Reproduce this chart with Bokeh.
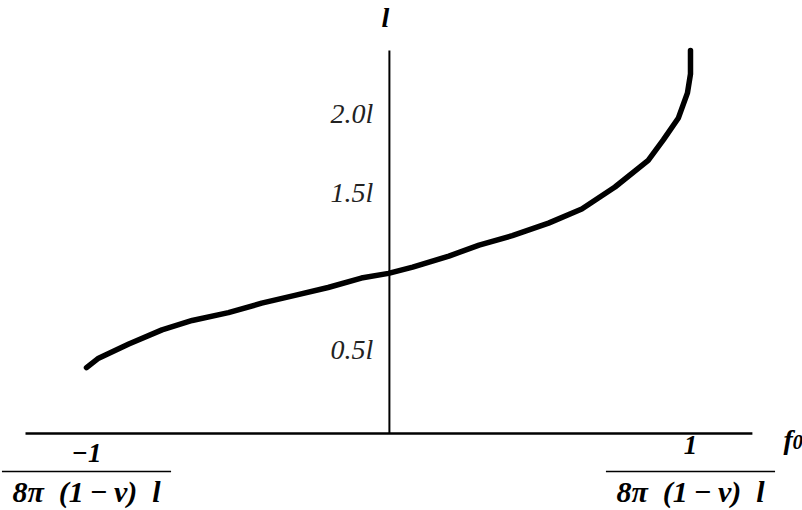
from bokeh.plotting import figure
from bokeh.models import Range1d, ColumnDataSource
from bokeh.core.properties import value
from bokeh.embed import file_html
from bokeh.resources import INLINE

# Curve data: x in units of 1/(8*pi*(1-nu)*l), y in units of l
f0_vals = [-1.0, -0.96, -0.86, -0.75, -0.65, -0.53, -0.42, -0.31, -0.2, -0.09,
           0.0, 0.08, 0.2, 0.3, 0.41, 0.53, 0.64, 0.75, 0.86, 0.91, 0.96, 0.99, 1.0, 1.0]
len_vals = [0.42, 0.48, 0.57, 0.66, 0.72, 0.77, 0.83, 0.88, 0.93, 0.99,
            1.02, 1.06, 1.13, 1.20, 1.26, 1.34, 1.43, 1.57, 1.74, 1.87, 2.01, 2.17, 2.29, 2.44]

y_tick_values = [2.0, 1.5, 0.5]
y_tick_labels = ["2.0l", "1.5l", "0.5l"]

frac_x = [-1.0, 1.0]
numerators = ["\u22121", "1"]
numer_y = [-0.127, -0.076]
denominators = ["8\u03c0\u2002(1\u2009\u2212\u2009\u03bd)\u2002l",
                "8\u03c0\u2002(1\u2009\u2212\u2009\u03bd)\u2002l"]

x_axis_extent = [-1.202, 1.205]
y_axis_extent = [0.0, 2.44]
y_axis_x = 0.003
frac_bar_y = -0.242
frac_bar_half = 0.28

FONT = value("Liberation Serif")

p = figure(width=802, height=510, output_backend="svg", toolbar_location=None,
           x_range=Range1d(-1.2848, 1.3709), y_range=Range1d(-0.4904, 2.758),
           min_border=0)
p.axis.visible = False
p.grid.visible = False
p.outline_line_color = None
p.background_fill_color = "white"
p.border_fill_color = "white"

# axes lines
p.segment(x0=[x_axis_extent[0]], y0=[0], x1=[x_axis_extent[1]], y1=[0],
          line_color="black", line_width=2.5)
p.segment(x0=[y_axis_x], y0=[y_axis_extent[0]], x1=[y_axis_x], y1=[y_axis_extent[1]],
          line_color="black", line_width=2)

# curve
p.line(f0_vals, len_vals, line_color="black", line_width=5.5,
       line_cap="round", line_join="round")

# y tick labels
p.text(x=[-0.05] * 3, y=y_tick_values, text=y_tick_labels, text_font=FONT,
       text_font_style="italic", text_font_size="28px", text_align="right",
       text_baseline="middle", y_offset=-6, text_color="#222222")

# axis titles
p.text(x=[-0.01], y=[y_axis_extent[1]], text=["l"], text_font=FONT,
       text_font_style="bold italic", text_font_size="28px", text_align="center",
       text_baseline="alphabetic", y_offset=-33, text_color="black")
p.text(x=[x_axis_extent[1]], y=[0], text=["f"], text_font=FONT,
       text_font_style="bold italic", text_font_size="28px", text_align="left",
       text_baseline="alphabetic", x_offset=31, y_offset=6, text_color="black")
p.text(x=[x_axis_extent[1]], y=[0], text=["0"], text_font=FONT,
       text_font_style="bold italic", text_font_size="21px", text_align="left",
       text_baseline="alphabetic", x_offset=40, y_offset=8, text_color="black")

# fraction tick labels on x axis
p.text(x=frac_x, y=numer_y, text=numerators, text_font=FONT,
       text_font_style="bold italic", text_font_size="27px", text_align="center",
       text_baseline="middle", text_color="black")
src = ColumnDataSource(dict(x0=[f - frac_bar_half for f in frac_x],
                            x1=[f + frac_bar_half for f in frac_x],
                            y=[frac_bar_y, frac_bar_y]))
p.segment(x0="x0", y0="y", x1="x1", y1="y", source=src, line_color="black", line_width=1.5)
p.text(x=frac_x, y=[0, 0], text=denominators, text_font=FONT,
       text_font_style="bold italic", text_font_size="30px", text_align="center",
       text_baseline="middle", y_offset=58, text_color="black")

open("out.html", "w").write(file_html(p, INLINE))
